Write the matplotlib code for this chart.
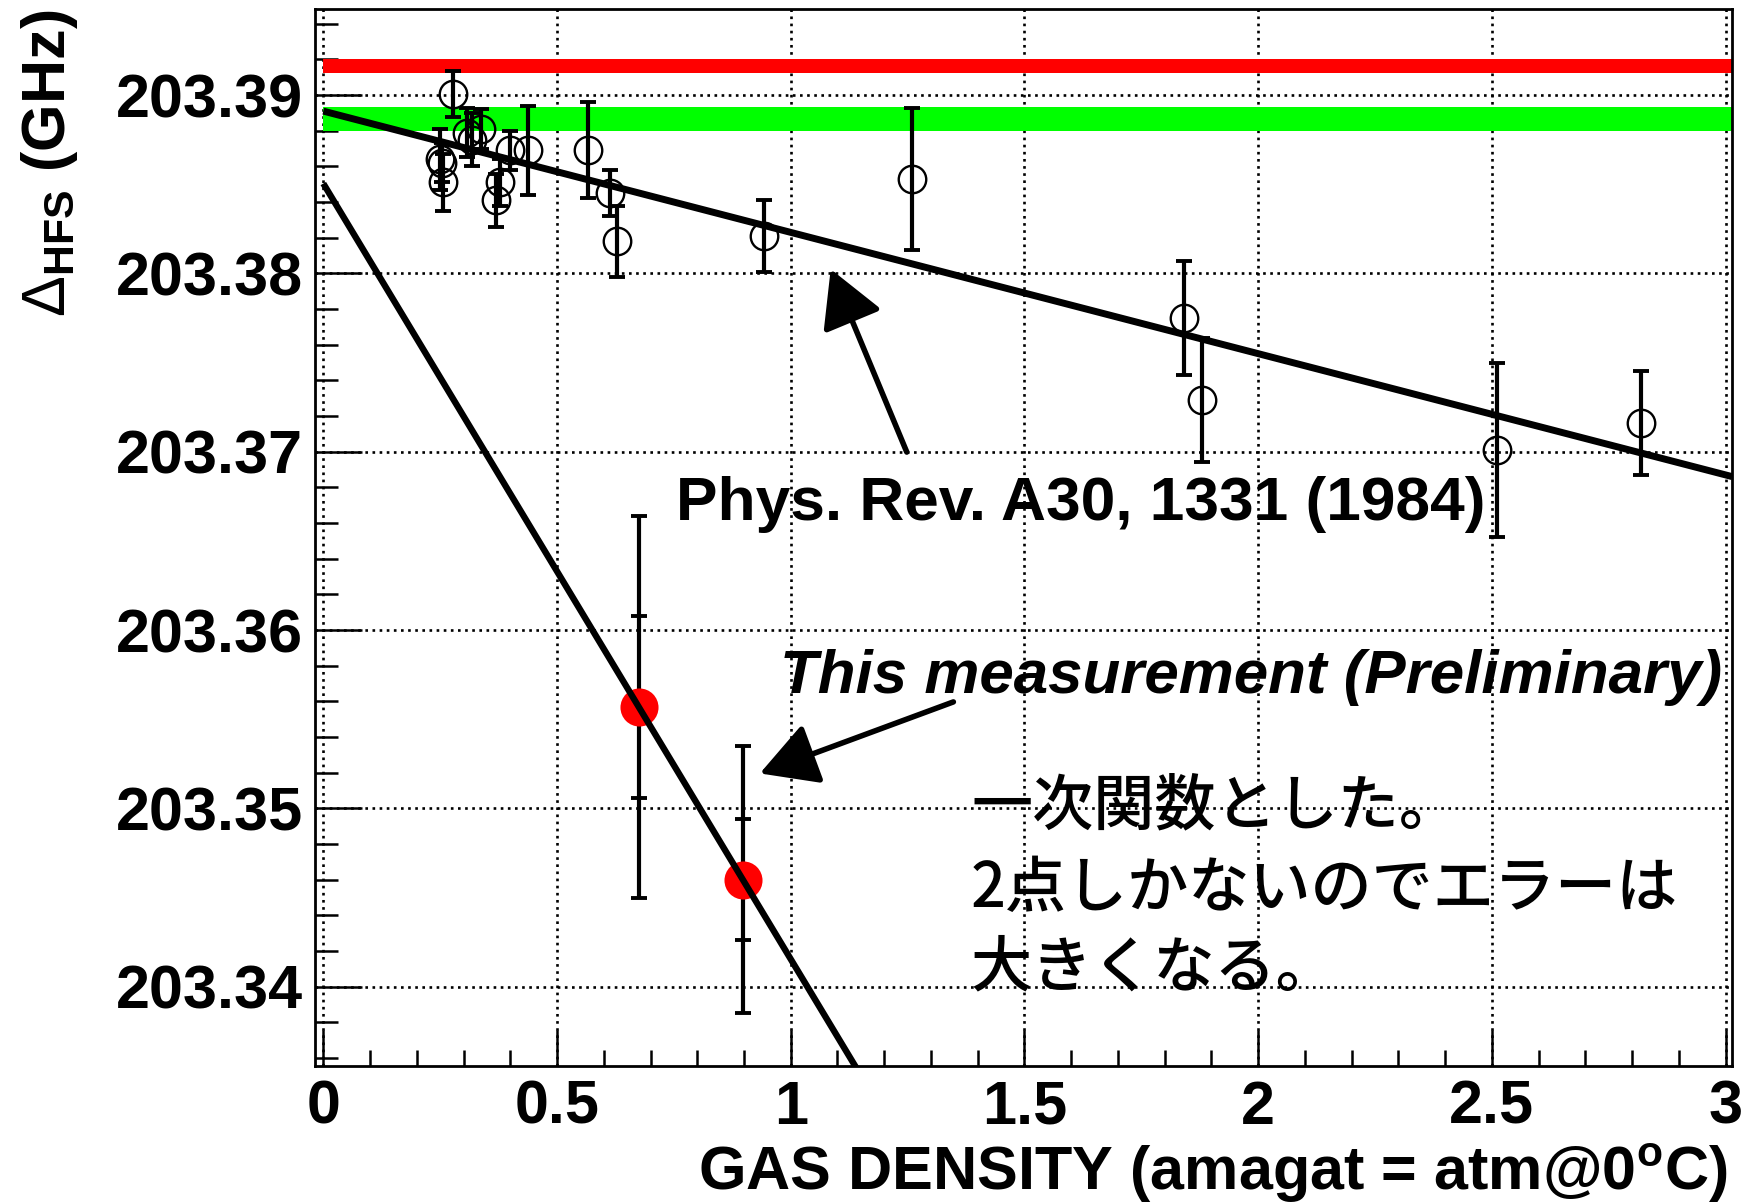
import matplotlib
matplotlib.use("Agg")
import matplotlib.pyplot as plt
from matplotlib.patches import FancyArrowPatch, ArrowStyle
from matplotlib.ticker import MultipleLocator, FixedLocator
import numpy as np

# Ritter et al., Phys. Rev. A30, 1331 (1984): HFS interval vs N2 gas density
old_density = [0.2767, 0.249, 0.253, 0.256, 0.3074, 0.318, 0.3376, 0.3776, 0.370,
               0.3986, 0.437, 0.566, 0.614, 0.628, 0.942, 1.2587, 1.8405, 1.880,
               2.51, 2.82]
old_hfs = [203.39006, 203.3864, 203.3862, 203.3851, 203.3879, 203.3875, 203.3881,
           203.3851, 203.3841, 203.3869, 203.3869, 203.3869, 203.3845, 203.3818,
           203.3821, 203.3853, 203.3775, 203.3729, 203.3701, 203.3716]
old_err = [0.00127, 0.0017, 0.0011, 0.0016, 0.0014, 0.0015, 0.0011, 0.0013, 0.0015,
           0.0011, 0.0025, 0.0027, 0.0013, 0.0020, 0.0020, 0.0040, 0.0032, 0.0035,
           0.0049, 0.0029]

# Linear fit to the 1984 data (intercept in GHz, slope in GHz/amagat)
old_fit_intercept = 203.3891
old_fit_slope = -0.0068

# This measurement (preliminary)
new_density = [0.6748, 0.8976]
new_hfs = [203.35569, 203.34600]
new_err_total = [0.0107, 0.0075]
new_err_stat = [0.0051, 0.0034]

# Reference bands (GHz): theory and previous extrapolated value
theory_value, theory_err = 203.39165, 0.00040
prev_value, prev_err = 203.38865, 0.00067

x_ticks = [0, 0.5, 1, 1.5, 2, 2.5, 3]
x_tick_labels = ["0", "0.5", "1", "1.5", "2", "2.5", "3"]
y_ticks = [203.34, 203.35, 203.36, 203.37, 203.38, 203.39]
y_tick_labels = ["203.34", "203.35", "203.36", "203.37", "203.38", "203.39"]

X_MIN, X_MAX = -0.0178, 3.0145
Y_MIN, Y_MAX = 203.33557, 203.39481

plt.rcParams["font.family"] = ["Liberation Sans", "DejaVu Sans"]
plt.rcParams["font.weight"] = "bold"
plt.rcParams["mathtext.fontset"] = "custom"
plt.rcParams["mathtext.rm"] = "Liberation Sans:bold"
plt.rcParams["mathtext.bf"] = "Liberation Sans:bold"
plt.rcParams["mathtext.sf"] = "Liberation Sans:normal"

FS = 44

fig = plt.figure(figsize=(17.47, 12.02), dpi=100)
ax = fig.add_axes([0.18031, 0.11340, 0.81128, 0.87887])
ax.set_xlim(X_MIN, X_MAX)
ax.set_ylim(Y_MIN, Y_MAX)

# grid
ax.set_axisbelow(True)
ax.grid(True, which="major", color="k", linestyle=(0, (1, 1.7)), linewidth=1.9)

# reference bands
band_x = [0, X_MAX]
ax.fill_between(band_x, theory_value - theory_err, theory_value + theory_err,
                color="#ff0000", lw=0, zorder=1)
ax.fill_between(band_x, prev_value - prev_err, prev_value + prev_err,
                color="#00ff00", lw=0, zorder=1)

# 1984 data and its linear fit
xs = np.array([0.0, X_MAX])
ax.plot(xs, old_fit_intercept + old_fit_slope * xs, color="k", lw=5.0,
        solid_capstyle="butt", zorder=3)
ax.errorbar(old_density, old_hfs, yerr=old_err, fmt="none", ecolor="k",
            elinewidth=3.0, capsize=5.5, capthick=2.8, zorder=4)
ax.plot(old_density, old_hfs, "o", mfc="none", mec="k", mew=1.7, ms=19.8,
        zorder=5)

# this measurement: straight line through the two points
slope, intercept = np.polyfit(new_density, new_hfs, 1)
ax.errorbar(new_density, new_hfs, yerr=new_err_total, fmt="none", ecolor="k",
            elinewidth=3.0, capsize=5.5, capthick=2.8, zorder=4)
ax.errorbar(new_density, new_hfs, yerr=new_err_stat, fmt="none", ecolor="k",
            elinewidth=0, capsize=5.5, capthick=2.8, zorder=4)
ax.plot(new_density, new_hfs, "o", color="#ff0000", mec="none", ms=27.4, zorder=5)
ax.plot(xs, intercept + slope * xs, color="k", lw=4.6, solid_capstyle="butt",
        zorder=6)

# axes styling
for sp in ax.spines.values():
    sp.set_linewidth(2.0)
ax.xaxis.set_major_locator(FixedLocator(x_ticks))
ax.set_xticklabels(x_tick_labels)
ax.xaxis.set_minor_locator(MultipleLocator(0.1))
ax.yaxis.set_major_locator(FixedLocator(y_ticks))
ax.set_yticklabels(y_tick_labels)
ax.yaxis.set_minor_locator(MultipleLocator(0.002))
ax.tick_params(axis="both", which="both", direction="in", top=False, right=False,
               width=1.8, labelsize=FS)
ax.tick_params(axis="y", which="major", length=34, pad=8.6)
ax.tick_params(axis="y", which="minor", length=16.5)
ax.tick_params(axis="x", which="major", length=26, pad=10)
ax.tick_params(axis="x", which="minor", length=11.5)
for lab in ax.get_xticklabels() + ax.get_yticklabels():
    lab.set_fontweight("bold")

# axis titles
fig.text(1727 / 1747, 1 - 1190 / 1202, r"GAS DENSITY (amagat = atm@0$^{\rm o}$C)",
         ha="right", va="baseline", fontsize=FS, fontweight="bold")
fig.text(50 / 1747, 1 - 10 / 1202, r"$\mathsf{\Delta}_{\rm HFS}$ (GHz)",
         rotation=90, ha="center", va="top", fontsize=FS, fontweight="bold")

# annotations
arrow_style = ArrowStyle("-|>", head_length=35, head_width=19.4)
ax.add_patch(FancyArrowPatch((1.2483, 203.36998), (1.0855, 203.38024),
                             arrowstyle=arrow_style, mutation_scale=1, lw=4.0,
                             color="k", shrinkA=0, shrinkB=0, zorder=7))
ax.add_patch(FancyArrowPatch((1.348, 203.35597), (0.934, 203.35196),
                             arrowstyle=arrow_style, mutation_scale=1, lw=4.0,
                             color="k", shrinkA=0, shrinkB=0, zorder=7))

fig.text(676 / 1747, 1 - 520 / 1202, "Phys. Rev. A30, 1331 (1984)",
         ha="left", va="baseline", fontsize=44.8, fontweight="bold")
fig.text(780 / 1747, 1 - 693 / 1202, "This measurement (Preliminary)",
         ha="left", va="baseline", fontsize=44.6, fontweight="bold", style="italic")

jp_font = ["Noto Sans CJK JP", "DejaVu Sans"]
jp_lines = ["一次関数とした。", "2点しかないのでエラーは", "大きくなる。"]
for line, yc in zip(jp_lines, [806.5, 889, 969]):
    fig.text(971 / 1747, 1 - yc / 1202, line, ha="left", va="center",
             fontsize=FS, fontweight="medium", family=jp_font)

fig.savefig("out.png", dpi=100, facecolor="white")
